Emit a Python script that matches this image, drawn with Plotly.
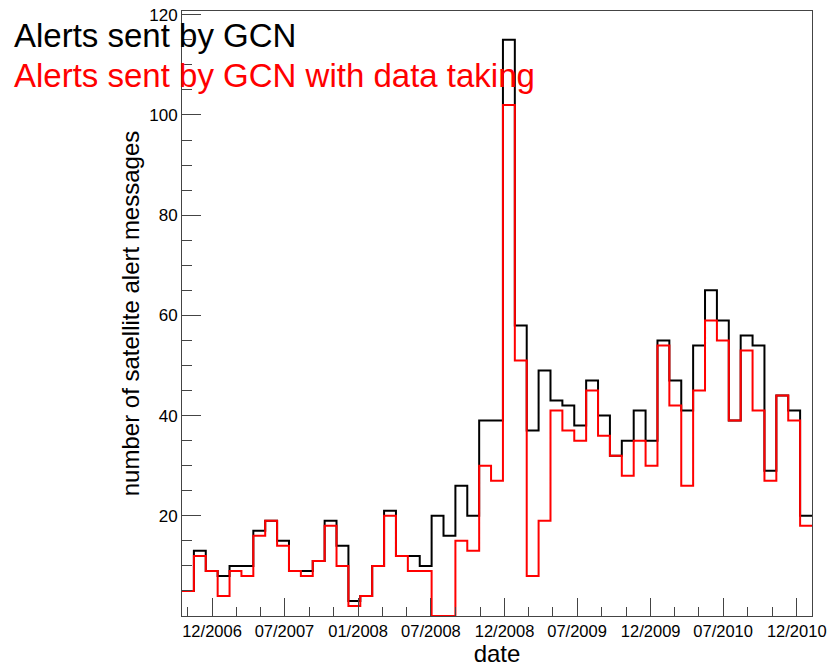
import numpy as np
import pandas as pd
import plotly.graph_objects as go

# ---- data ----
start_date = "2006-10-18"
bin_days = 29.7
alerts_all = [5, 13, 9, 8, 10, 10, 17, 19, 15, 9, 9, 11, 19,
              14, 3, 4, 10, 21, 12, 12, 10, 20, 16, 26, 20,
              39, 39, 115, 58, 37, 49, 43, 42, 38, 47, 40, 32,
              35, 41, 35, 55, 47, 41, 54, 65, 59, 39, 56, 54, 29, 44, 41, 20]
alerts_taking = [5, 12, 9, 4, 9, 8, 16, 19, 14, 9, 8, 11, 18,
                 10, 2, 4, 10, 20, 12, 9, 9, 0, 0, 15, 13,
                 30, 27, 102, 51, 8, 19, 41, 37, 35, 45, 36, 32,
                 28, 35, 30, 54, 42, 26, 45, 59, 55, 39, 53, 41, 27, 44, 39, 18]
tick_dates = ["2007-01-01", "2007-07-01", "2008-01-01", "2008-07-01", "2009-01-01",
              "2009-07-01", "2010-01-01", "2010-07-01", "2011-01-01"]
tick_labels = ["12/2006", "07/2007", "01/2008", "07/2008", "12/2008",
               "07/2009", "12/2009", "07/2010", "12/2010"]
y_ticks = [20, 40, 60, 80, 100, 120]
name_all = "Alerts sent by GCN"
name_taking = "Alerts sent by GCN with data taking"

# ---- build ----
nb = len(alerts_all)
edges = pd.Timestamp(start_date) + pd.to_timedelta(np.arange(nb + 1) * bin_days, unit="D")
majors = pd.to_datetime(tick_dates)
minors = []
step0 = (majors[1] - majors[0]) / 3
minors.append(majors[0] - step0)
for a, b in zip(majors[:-1], majors[1:]):
    st = (b - a) / 3
    minors += [a + st, a + 2 * st]
last = majors[-1] + (majors[-1] - majors[-2]) / 3
if last < edges[-1]:
    minors.append(last)

font_family = "Liberation Sans, Arial, sans-serif"
axcol = "#444444"

fig = go.Figure()
fig.add_trace(go.Scatter(x=edges, y=alerts_all + [alerts_all[-1]], mode="lines",
                         line=dict(color="black", width=2, shape="hv"),
                         name=name_all, showlegend=False))
fig.add_trace(go.Scatter(x=edges, y=alerts_taking + [alerts_taking[-1]], mode="lines",
                         line=dict(color="red", width=2, shape="hv"),
                         name=name_taking, showlegend=False))

ymax = max(alerts_all) * 1.05

fig.update_layout(
    width=827, height=667,
    margin=dict(l=182, r=15, t=11, b=51),
    paper_bgcolor="white", plot_bgcolor="white",
    font=dict(family=font_family, color="black"),
    xaxis=dict(
        type="date", range=[edges[0], edges[-1]], automargin=False,
        showline=True, linecolor=axcol, linewidth=1, mirror=True,
        ticks="inside", ticklen=18, tickcolor=axcol, tickwidth=1,
        tickmode="array", tickvals=list(majors), ticktext=tick_labels,
        minor=dict(tickmode="array", tickvals=minors, ticks="inside", ticklen=9,
                   tickcolor=axcol, tickwidth=1, showgrid=False),
        showgrid=False, zeroline=False,
        tickfont=dict(size=16.5),
        title=dict(text="date", font=dict(size=24), standoff=4),
    ),
    yaxis=dict(
        range=[0, ymax], automargin=False,
        showline=True, linecolor=axcol, linewidth=1, mirror=True,
        ticks="inside", ticklen=19, tickcolor=axcol, tickwidth=1,
        tickmode="array", tickvals=y_ticks,
        minor=dict(dtick=5, tick0=0, ticks="inside", ticklen=10,
                   tickcolor=axcol, tickwidth=1, showgrid=False),
        showgrid=False, zeroline=False,
        tickfont=dict(size=17),
        title=dict(text="number of satellite alert messages", font=dict(size=24), standoff=2),
    ),
)

fig.add_annotation(text=name_all, xref="paper", yref="paper",
                   x=(12 - 182) / 630, y=(616 - 36) / 605,
                   xanchor="left", yanchor="middle", showarrow=False,
                   font=dict(size=33, color="black"))
fig.add_annotation(text=name_taking, xref="paper", yref="paper",
                   x=(12 - 182) / 630, y=(616 - 75) / 605,
                   xanchor="left", yanchor="middle", showarrow=False,
                   font=dict(size=33, color="red"))

fig.write_html("out.html")
